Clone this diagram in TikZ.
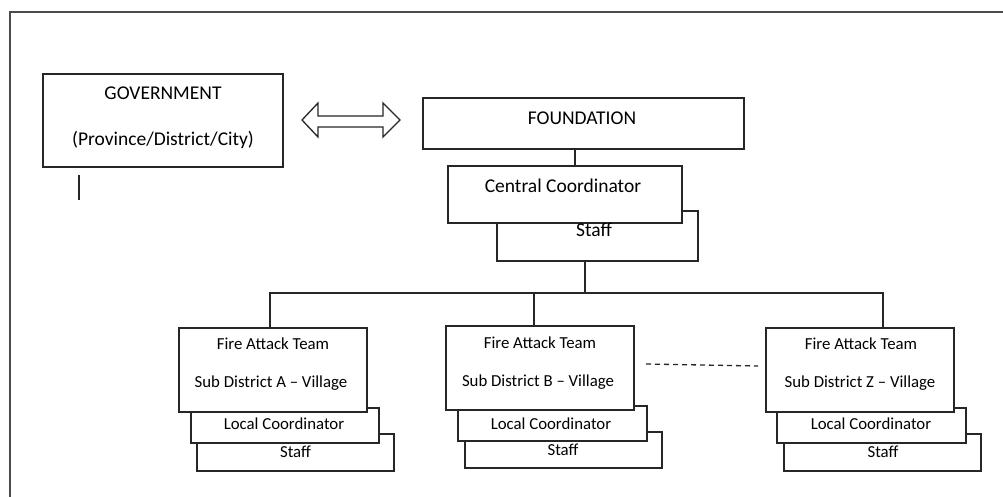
\documentclass[tikz,border=0pt]{standalone}
\usepackage{fontspec}
\setmainfont{Carlito}
\usetikzlibrary{calc}
\begin{document}
\begin{tikzpicture}[x=1pt,y=-1pt,
  box/.style={draw=black!85, line width=1.3pt, fill=white, inner sep=0pt, outer sep=0pt, anchor=north west},
  big/.style={font=\fontsize{19.5}{23}\selectfont, text=black, anchor=base, inner sep=0pt},
  small/.style={font=\fontsize{16.8}{20}\selectfont, text=black, anchor=base, inner sep=0pt},
  link/.style={draw=black!85, line width=1.3pt}]
\useasboundingbox (0,0) rectangle (1003,497);
% outer frame
\draw[line width=1.3pt, draw=black!70] (10,497) -- (10,12) -- (1003,12);
% government
\node[box, minimum width=240pt, minimum height=93pt] (gov) at (43,74) {};
\node[big] (govt1) at (163,100) {GOVERNMENT};
\node[big] (govt2) at (163,146) {(Province/District/City)};
\draw[link] ([shift={(36,8)}]gov.south west) -- ++(0,25);
% double arrow
\draw[link, fill=white] (302,120) -- (318,103) -- (318,116) -- (383,116) -- (383,103) -- (400,120)
  -- (383,137) -- (383,127) -- (318,127) -- (318,137) -- cycle;
% foundation
\node[box, minimum width=321pt, minimum height=51pt] (found) at (423,98) {};
\node[big] (foundt) at (582,125) {FOUNDATION};
% central coordinator and staff
\node[box, minimum width=201pt, minimum height=50pt] (ccstaff) at (497,211) {};
\node[box, minimum width=234pt, minimum height=57pt] (cc) at (448,166) {};
\node[big] (cct) at (563,193) {Central Coordinator};
\node[big] (ccstafft) at (594,236) {Staff};
\draw[link] ([xshift=-8.5pt]found.south) -- ([xshift=-8.5pt]found.south |- cc.north);
\coordinate (bus) at (585,293);
\draw[link] ([xshift=-12.5pt]ccstaff.south) -- (bus);
% team A
\node[box, minimum width=197pt, minimum height=37pt] (staffA) at (197,434) {};
\node[box, minimum width=188pt, minimum height=35pt] (lcA) at (191,408) {};
\node[box, minimum width=188pt, minimum height=84pt] (fatA) at (179,328) {};
\node[small] (fatAt1) at (273,349) {Fire Attack Team};
\node[small] (fatAt2) at (271,387) {Sub District A – Village};
\node[small] (lcAt) at (284,429) {Local Coordinator};
\node[small] (staffAt) at (295.5,457) {Staff};
% team B
\node[box, minimum width=197pt, minimum height=36pt] (staffB) at (465,432) {};
\node[box, minimum width=189pt, minimum height=35pt] (lcB) at (458,406) {};
\node[box, minimum width=188pt, minimum height=84pt] (fatB) at (446,326) {};
\node[small] (fatBt1) at (540,348) {Fire Attack Team};
\node[small] (fatBt2) at (538,386) {Sub District B – Village};
\node[small] (lcBt) at (551,429) {Local Coordinator};
\node[small] (staffBt) at (563,455) {Staff};
% team Z
\node[box, minimum width=197pt, minimum height=37pt] (staffZ) at (784,434) {};
\node[box, minimum width=189pt, minimum height=35pt] (lcZ) at (777,408) {};
\node[box, minimum width=188pt, minimum height=84pt] (fatZ) at (766,328) {};
\node[small] (fatZt1) at (861,349) {Fire Attack Team};
\node[small] (fatZt2) at (860,387) {Sub District Z – Village};
\node[small] (lcZt) at (871,429) {Local Coordinator};
\node[small] (staffZt) at (883,457) {Staff};
% bus connectors
\draw[link] ([xshift=-3pt]fatA.north) |- (bus) -| ([xshift=23pt]fatZ.north);
\draw[link] ([xshift=-6pt]fatB.north) -- ([xshift=-6pt]fatB.north |- bus);
% dashed link
\draw[draw=black!85, line width=1.3pt, dash pattern=on 5pt off 4pt]
  ($(fatB.east)+(12,-4)$) -- ($(fatZ.west)+(-8,-4)$);
\end{tikzpicture}
\end{document}
